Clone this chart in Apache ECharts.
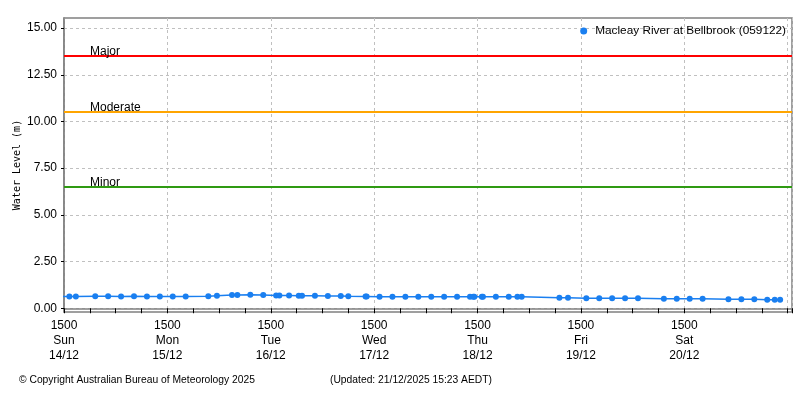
<!DOCTYPE html>
<html>
<head>
<meta charset="utf-8">
<script src="https://cdn.jsdelivr.net/npm/echarts@6/dist/echarts.min.js"></script>
<style>
html,body{margin:0;padding:0;background:#fff;}
#chart{width:800px;height:400px;}
</style>
</head>
<body>
<div id="chart"></div>
<script>
// ---- data ----
const seriesName = 'Macleay River at Bellbrook (059122)';
// hours since Sun 14/12 15:00
const hours = [-1.75, 1.25, 2.75, 7.25, 10.25, 13.25, 16.25, 19.25, 22.25, 25.25, 28.25,
  33.5, 35.5, 39, 40.25, 43.25, 46.25, 49.25, 50, 52.25, 54.5, 55.25, 58.25, 61.25, 64.25, 66,
  70, 70.25, 73.25, 76.25, 79.25, 82.25, 85.25, 88.25, 91.25, 94.25, 95, 95.25, 97, 97.25,
  100.25, 103.25, 105.25, 106.25, 115, 117, 121.25, 124.25, 127.25, 130.25, 133.25,
  139.25, 142.25, 145.25, 148.25, 154.25, 157.25, 160.25, 163.25, 165, 166.25];
const levels = [0.63, 0.63, 0.63, 0.64, 0.64, 0.63, 0.64, 0.63, 0.63, 0.63, 0.63,
  0.64, 0.67, 0.71, 0.71, 0.72, 0.71, 0.68, 0.68, 0.68, 0.67, 0.67, 0.67, 0.66, 0.66, 0.64,
  0.63, 0.63, 0.62, 0.61, 0.61, 0.61, 0.61, 0.61, 0.61, 0.61, 0.61, 0.61, 0.61, 0.61,
  0.61, 0.61, 0.61, 0.61, 0.56, 0.56, 0.53, 0.53, 0.53, 0.53, 0.53,
  0.51, 0.51, 0.51, 0.51, 0.48, 0.48, 0.48, 0.45, 0.45, 0.45];
const thresholdNames = ['Major', 'Moderate', 'Minor'];
const thresholdValues = [13.5, 10.5, 6.5];
const thresholdColors = ['#ff0000', '#ffa500', '#2f9a12'];
const yTicks = [0, 2.5, 5, 7.5, 10, 12.5, 15];
const tickTimes = ['1500', '1500', '1500', '1500', '1500', '1500', '1500'];
const tickDays = ['Sun', 'Mon', 'Tue', 'Wed', 'Thu', 'Fri', 'Sat'];
const tickDates = ['14/12', '15/12', '16/12', '17/12', '18/12', '19/12', '20/12'];
const copyrightText = '\u00a9 Copyright Australian Bureau of Meteorology 2025';
const updatedText = '(Updated: 21/12/2025 15:23 AEDT)';

// ---- chart ----
const FONT = 'Liberation Sans';
const chart = echarts.init(document.getElementById('chart'), null, {renderer: 'canvas'});
const seriesData = hours.map((h, i) => [h, levels[i]]);
const thresholdLines = thresholdNames.map((n, i) => ({
  name: n,
  yAxis: thresholdValues[i],
  lineStyle: {color: thresholdColors[i], width: 2, type: 'solid'},
  label: {formatter: n}
}));

chart.setOption({
  animation: false,
  backgroundColor: '#fff',
  textStyle: {fontFamily: FONT},
  title: [
    {text: copyrightText, left: 19, top: 375, padding: 0, textStyle: {fontSize: 10.3, fontWeight: 'normal', color: '#000', fontFamily: FONT}},
    {text: updatedText, left: 330, top: 375, padding: 0, textStyle: {fontSize: 10.3, fontWeight: 'normal', color: '#000', fontFamily: FONT}}
  ],
  legend: {
    right: 9, top: 20,
    icon: 'circle', itemWidth: 7, itemHeight: 7, itemGap: 5,
    textStyle: {fontSize: 11.8, color: '#000', fontFamily: FONT, padding: [0, 0, 0, 3]},
    data: [seriesName]
  },
  grid: {
    left: 64, right: 8, top: 18, bottom: 88,
    outerBoundsMode: 'none',
    show: true, borderColor: '#808080', borderWidth: 1.5, containLabel: false
  },
  xAxis: {
    type: 'value', min: 0, max: 169, interval: 24,
    axisLine: {show: true, lineStyle: {color: '#808080', width: 1.5}},
    axisTick: {show: true, length: 5, lineStyle: {color: '#000'}},
    minorTick: {show: true, splitNumber: 4, length: 5, lineStyle: {color: '#000'}},
    splitLine: {show: true, lineStyle: {color: '#c0c0c0', type: [3, 3], width: 1}},
    axisLabel: {
      margin: 6, fontSize: 12, color: '#000', lineHeight: 15, fontFamily: FONT,
      showMaxLabel: false,
      formatter: v => {
        const i = Math.round(v / 24);
        return i < tickDays.length ? tickTimes[i] + '\n' + tickDays[i] + '\n' + tickDates[i] : '';
      }
    }
  },
  yAxis: {
    type: 'value', min: -0.2, max: 15.54,
    name: 'Water Level (m)', nameLocation: 'middle', nameGap: 42, nameMoveOverlap: false,
    nameTextStyle: {fontFamily: 'DejaVu Sans Mono', fontSize: 10, color: '#000'},
    axisLine: {show: true, lineStyle: {color: '#808080', width: 1.5}},
    axisTick: {show: true, length: 3, customValues: yTicks, lineStyle: {color: '#000'}},
    axisLabel: {
      margin: 7, fontSize: 12, color: '#000', fontFamily: FONT,
      customValues: yTicks,
      formatter: v => v.toFixed(2)
    },
    splitLine: {show: true, lineStyle: {color: '#c0c0c0', type: [3, 3], width: 1}}
  },
  series: [{
    name: seriesName,
    type: 'line',
    data: seriesData,
    clip: true,
    symbol: 'circle', symbolSize: 6, showSymbol: true,
    itemStyle: {color: '#1a7ff0'},
    lineStyle: {color: '#1a7ff0', width: 1.5},
    emphasis: {disabled: true},
    markLine: {
      silent: true, symbol: 'none', animation: false,
      label: {show: true, position: 'insideStartTop', distance: [26, -2], color: '#000', fontSize: 12, fontFamily: FONT},
      data: thresholdLines
    }
  }]
});
</script>
</body>
</html>
